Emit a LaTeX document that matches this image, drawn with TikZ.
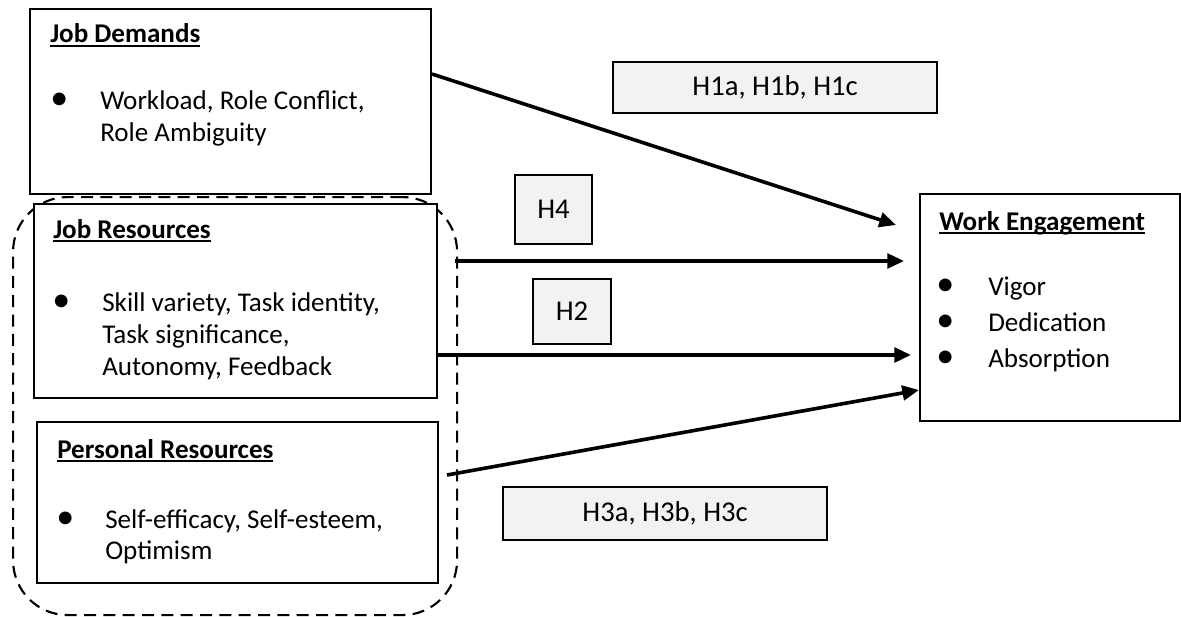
\documentclass[tikz,border=0pt]{standalone}
\usepackage{fontspec}
\setmainfont{Carlito}
\usetikzlibrary{arrows.meta}
\definecolor{lblfill}{HTML}{F2F2F2}
\newcommand\ulbox[1]{\setbox0\hbox{#1}\rlap{\rule[-3pt]{\wd0}{1.5pt}}\box0}
\tikzset{
  box/.style={draw=black, line width=1.6pt, anchor=north west, inner sep=0pt, fill=white},
  lbl/.style={draw=black, line width=1.6pt, anchor=north west, inner sep=0pt, fill=lblfill,
              font=\fontsize{21.5}{26}\selectfont},
  ttl/.style={anchor=base west, inner sep=0pt, font=\fontsize{20.3}{24}\selectfont\bfseries},
  txt/.style={anchor=base west, inner sep=0pt, font=\fontsize{20.3}{24}\selectfont},
  bul/.style={anchor=base west, inner sep=0pt, font=\fontsize{27}{24}\selectfont},
  grp/.style={draw=black, line width=1.6pt, dash pattern=on 9pt off 5.5pt, rounded corners=41pt,
              anchor=north west, inner sep=0pt},
  arr/.style={line width=2.7pt, -{Triangle[length=12.5pt,width=11pt]}}
}
\begin{document}
\begin{tikzpicture}[x=0.75pt,y=-0.75pt]
\useasboundingbox (0,0) rectangle (1181,617);

% boxes
\node[box, minimum width=300.75pt, minimum height=138.75pt] (jd) at (29,8) {};
\node[grp, minimum width=333pt, minimum height=313.5pt] (grp) at (12,196) {};
\node[box, minimum width=302.25pt, minimum height=145.5pt] (jr) at (33,203) {};
\node[box, minimum width=300.75pt, minimum height=120.75pt] (pr) at (36,421) {};
\node[box, minimum width=195pt, minimum height=170.25pt] (we) at (919,193) {};

% label boxes
\node[lbl, minimum width=243pt, minimum height=38.25pt] (h1) at (612,61) {};
\node[font=\fontsize{21.5}{26}\selectfont] (h1t) at (h1.center) {H1a, H1b, H1c};
\node[lbl, minimum width=57.75pt, minimum height=51.75pt] (h4) at (514,174) {};
\node[font=\fontsize{21.5}{26}\selectfont] (h4t) at (h4.center) {H4};
\node[lbl, minimum width=58.5pt, minimum height=48.75pt] (h2) at (532,278) {};
\node[font=\fontsize{21.5}{26}\selectfont] (h2t) at (h2.center) {H2};
\node[lbl, minimum width=243pt, minimum height=39.75pt] (h3) at (502,486) {};
\node[font=\fontsize{21.5}{26}\selectfont] (h3t) at (h3.center) {H3a, H3b, H3c};

% Job Demands text
\node[ttl] (jdt) at (50,43) {\ulbox{Job Demands}};
\node[bul] (jdb) at (50,109) {•};
\node[txt] (jd1) at (100,109) {Workload, Role Conflict,};
\node[txt] (jd2) at (100,142) {Role Ambiguity};

% Job Resources text
\node[ttl] (jrt) at (53,238) {\ulbox{Job Resources}};
\node[bul] (jrb) at (52,311) {•};
\node[txt] (jr1) at (102,311) {Skill variety, Task identity,};
\node[txt] (jr2) at (102,343) {Task significance,};
\node[txt] (jr3) at (102,375) {Autonomy, Feedback};

% Personal Resources text
\node[ttl] (prt) at (57,458) {\ulbox{Personal Resources}};
\node[bul] (prb) at (56,528) {•};
\node[txt] (pr1) at (105,528) {Self-efficacy, Self-esteem,};
\node[txt] (pr2) at (105,559) {Optimism};

% Work Engagement text
\node[ttl] (wet) at (939,230) {\ulbox{Work Engagement}};
\node[bul] (web1) at (936,295) {•};
\node[txt] (we1) at (988,295) {Vigor};
\node[bul] (web2) at (936,331) {•};
\node[txt] (we2) at (988,331) {Dedication};
\node[bul] (web3) at (936,367) {•};
\node[txt] (we3) at (988,367) {Absorption};

% connector end points
\coordinate (a1s) at (432,74);
\coordinate (a1e) at (896,225);
\coordinate (a4s) at (455,261);
\coordinate (a4e) at (904,261);
\coordinate (a2s) at (437,355);
\coordinate (a2e) at (911,355);
\coordinate (a3s) at (447,475);
\coordinate (a3e) at (919,390);

\draw[arr] (a1s) -- (a1e);
\draw[arr] (a4s) -- (a4e);
\draw[arr] (a2s) -- (a2e);
\draw[arr] (a3s) -- (a3e);
\end{tikzpicture}
\end{document}
